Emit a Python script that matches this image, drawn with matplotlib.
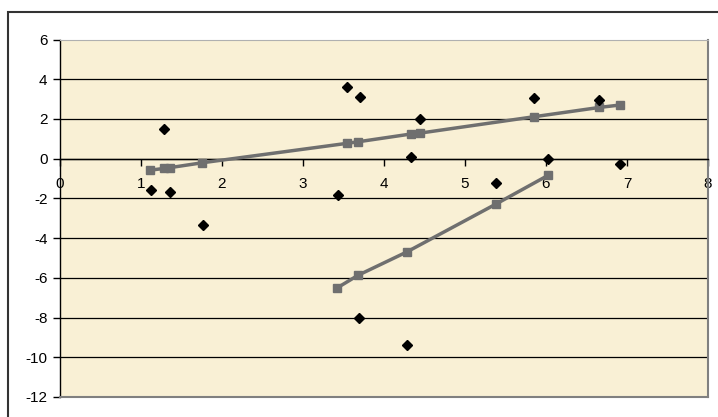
import numpy as np
from matplotlib import pyplot as plt
from matplotlib.patches import Rectangle

plt.rcParams['font.family'] = ['Liberation Sans', 'DejaVu Sans']

#---- Data

pts_x = [1.12, 1.29, 1.36, 1.77, 3.43, 3.54, 3.69, 3.70, 4.28, 4.33,
         4.45, 5.38, 5.85, 6.03, 6.66, 6.91]
pts_y = [-1.59, 1.47, -1.67, -3.35, -1.84, 3.59, -8.01, 3.12, -9.40, 0.06,
         2.01, -1.20, 3.07, -0.01, 2.95, -0.26]

fit1_x = [1.11, 1.29, 1.36, 1.75, 3.54, 3.68, 4.33, 4.45, 5.85, 6.66, 6.91]
fit1_y = [-0.58, -0.49, -0.45, -0.21, 0.77, 0.85, 1.24, 1.29, 2.11, 2.58, 2.70]

fit2_x = [3.42, 3.68, 4.28, 5.38, 6.03]
fit2_y = [-6.51, -5.87, -4.70, -2.29, -0.83]

xticks = np.arange(0, 9, 1)
yticks = np.arange(-12, 7, 2)

#---- Figure

W, H = 718, 417
fig = plt.figure(figsize=(W / 100, H / 100), dpi=100)

# outer chart border
fig.patches.append(Rectangle((8 / W, -0.05), 1.1, (H - 12) / H + 0.05,
                             transform=fig.transFigure, fill=False,
                             ec='#333333', lw=1.5))

ax = fig.add_axes([60 / W, (H - 397) / H, 648 / W, 357.5 / H])
ax.set_facecolor('#f9f0d5')

ax.set_xlim(0, 8)
ax.set_ylim(-12, 6)

for y in yticks[1:-1]:
    ax.axhline(y, color='black', lw=0.9, zorder=1)

ax.plot(fit1_x, fit1_y, '-s', color='#6f6f6f', lw=2.5, ms=6, zorder=3)
ax.plot(fit2_x, fit2_y, '-s', color='#6f6f6f', lw=2.5, ms=6, zorder=3)
ax.plot(pts_x, pts_y, 'D', color='black', ms=5, ls='none', zorder=4)

# axes: y axis at left, x axis at y=0
ax.spines['left'].set_color('black')
ax.spines['left'].set_linewidth(1.0)
ax.spines['bottom'].set_position(('data', 0))
ax.spines['bottom'].set_color('black')
ax.spines['bottom'].set_linewidth(1.0)
ax.spines['right'].set_color('#808080')
ax.spines['right'].set_linewidth(1.5)
ax.spines['top'].set_color('#b0b0b0')
ax.spines['top'].set_linewidth(0.8)

# bottom edge of the plot area
ax.plot([0, 8], [-12, -12], color='#808080', lw=1.5, clip_on=False, zorder=5)

ax.set_xticks(xticks)
ax.set_yticks(yticks)
ax.set_xticklabels([str(t) for t in xticks])
ax.set_yticklabels([str(t) for t in yticks])
ax.tick_params(axis='x', direction='out', length=5, width=1, pad=8,
               labelsize=11, bottom=True, top=False)
ax.tick_params(axis='y', direction='out', length=5, width=1, pad=4,
               labelsize=11)

plt.savefig('out.png', dpi=100)
